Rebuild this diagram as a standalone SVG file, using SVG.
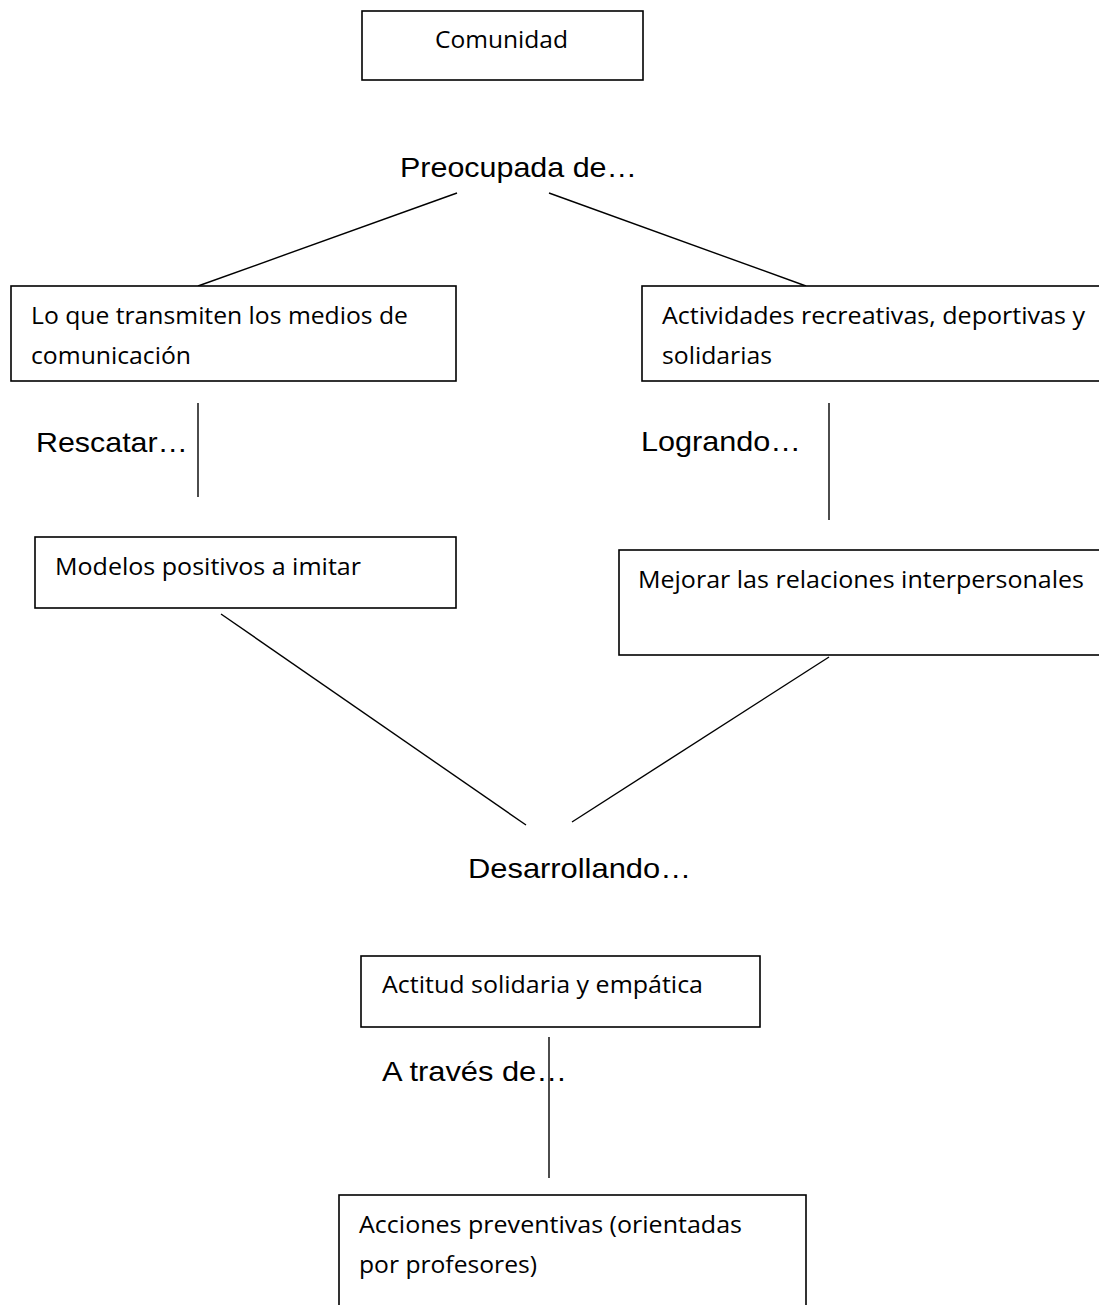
<svg xmlns="http://www.w3.org/2000/svg" width="1099" height="1305" viewBox="0 0 1099 1305">
<style>
.box{fill:#fff;stroke:#000;stroke-width:1.6}
.bt{font-family:"Open Sans","Noto Sans",sans-serif;font-size:23px;fill:#000}
.lb{font-family:"Liberation Sans",Arial,sans-serif;font-size:28px;fill:#000}
.ln{stroke:#000;stroke-width:1.4;fill:none}
</style>
<rect width="1099" height="1305" fill="#fff"/>
<g id="connectors">
<line class="ln" x1="457" y1="193" x2="198" y2="286"/>
<line class="ln" x1="549" y1="193" x2="806" y2="286"/>
<line class="ln" x1="198" y1="403" x2="198" y2="497"/>
<line class="ln" x1="829" y1="403" x2="829" y2="520"/>
<line class="ln" x1="221" y1="614" x2="526" y2="825"/>
<line class="ln" x1="829" y1="657" x2="572" y2="822"/>
<line class="ln" x1="549" y1="1037" x2="549" y2="1178"/>
</g>
<g id="labels">
<text class="lb" x="400" y="177" textLength="237" lengthAdjust="spacingAndGlyphs">Preocupada de…</text>
<text class="lb" x="36" y="452" textLength="152" lengthAdjust="spacingAndGlyphs">Rescatar…</text>
<text class="lb" x="641" y="451" textLength="160" lengthAdjust="spacingAndGlyphs">Logrando…</text>
<text class="lb" x="468" y="878" textLength="223" lengthAdjust="spacingAndGlyphs">Desarrollando…</text>
<text class="lb" x="382" y="1081" textLength="185" lengthAdjust="spacingAndGlyphs">A través de…</text>
</g>
<g id="node-comunidad">
<rect class="box" x="362" y="11" width="281" height="69"/>
<text class="bt" x="435" y="48" textLength="133" lengthAdjust="spacingAndGlyphs">Comunidad</text>
</g>
<g id="node-medios">
<rect class="box" x="11" y="286" width="445" height="95"/>
<text class="bt" x="31" y="324" textLength="377" lengthAdjust="spacingAndGlyphs">Lo que transmiten los medios de</text>
<text class="bt" x="31" y="364" textLength="160" lengthAdjust="spacingAndGlyphs">comunicación</text>
</g>
<g id="node-actividades">
<rect class="box" x="642" y="286" width="470" height="95"/>
<text class="bt" x="662" y="324" textLength="423" lengthAdjust="spacingAndGlyphs">Actividades recreativas, deportivas y</text>
<text class="bt" x="662" y="364" textLength="110" lengthAdjust="spacingAndGlyphs">solidarias</text>
</g>
<g id="node-modelos">
<rect class="box" x="35" y="537" width="421" height="71"/>
<text class="bt" x="55" y="575" textLength="306" lengthAdjust="spacingAndGlyphs">Modelos positivos a imitar</text>
</g>
<g id="node-mejorar">
<rect class="box" x="619" y="550" width="500" height="105"/>
<text class="bt" x="638" y="588" textLength="446" lengthAdjust="spacingAndGlyphs">Mejorar las relaciones interpersonales</text>
</g>
<g id="node-actitud">
<rect class="box" x="361" y="956" width="399" height="71"/>
<text class="bt" x="382" y="993" textLength="321" lengthAdjust="spacingAndGlyphs">Actitud solidaria y empática</text>
</g>
<g id="node-acciones">
<rect class="box" x="339" y="1195" width="467" height="130"/>
<text class="bt" x="359" y="1233" textLength="383" lengthAdjust="spacingAndGlyphs">Acciones preventivas (orientadas</text>
<text class="bt" x="359" y="1273" textLength="178" lengthAdjust="spacingAndGlyphs">por profesores)</text>
</g>
</svg>
